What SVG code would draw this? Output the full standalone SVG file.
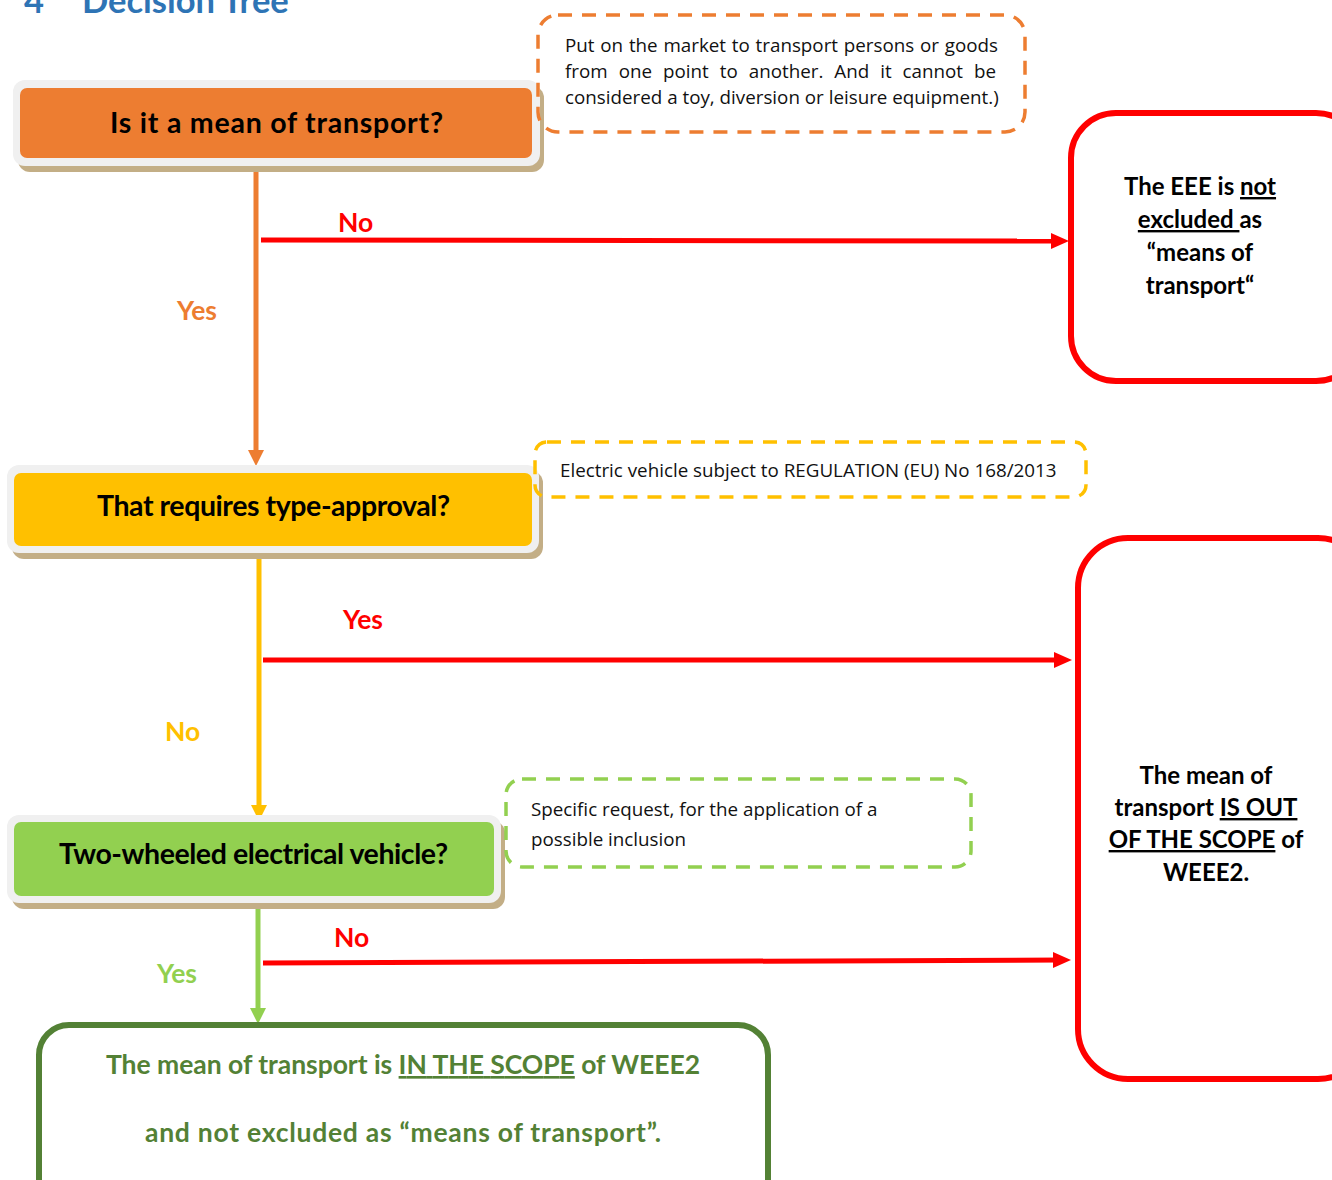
<svg xmlns="http://www.w3.org/2000/svg" width="1332" height="1180" viewBox="0 0 1332 1180">
<defs>
<style>
.t{font-family:Lato,"Open Sans","Liberation Sans",sans-serif;font-weight:700}
.n{font-family:"Open Sans",Lato,"Liberation Sans",sans-serif;font-weight:400;fill:#111;font-size:18.8px}
.q{font-size:28.5px;fill:#000;text-anchor:middle}
.lab{font-size:26.5px}
.res{font-size:24px;fill:#000;text-anchor:middle}
.u{text-decoration:underline}
.frame{fill:#F0F0F0}
.shadow{fill:#C3AE86}
</style>
<marker id="aO" markerWidth="16" markerHeight="16" refX="8" refY="8" orient="auto" markerUnits="userSpaceOnUse" viewBox="0 0 16 16"><path d="M0,0 L16,8 L0,16 Z" fill="#ED7D31"/></marker>
<marker id="aY" markerWidth="16" markerHeight="16" refX="8" refY="8" orient="auto" markerUnits="userSpaceOnUse" viewBox="0 0 16 16"><path d="M0,0 L16,8 L0,16 Z" fill="#FFC000"/></marker>
<marker id="aG" markerWidth="16" markerHeight="16" refX="8" refY="8" orient="auto" markerUnits="userSpaceOnUse" viewBox="0 0 16 16"><path d="M0,0 L16,8 L0,16 Z" fill="#92D050"/></marker>
<marker id="aR" markerWidth="18" markerHeight="18" refX="9" refY="9" orient="auto" markerUnits="userSpaceOnUse" viewBox="0 0 18 18"><path d="M0,1 L18,9 L0,17 Z" fill="#FF0000"/></marker>
</defs>
<rect width="1332" height="1180" fill="#fff"/>

<g id="title">
<text class="t" x="24" y="13" font-size="34.5" fill="#2E74B5">4</text>
<text class="t" x="82" y="13" font-size="34.5" fill="#2E74B5">Decision Tree</text>
</g>

<g id="connectors">
<line x1="256" y1="166" x2="256" y2="458" stroke="#ED7D31" stroke-width="5" marker-end="url(#aO)"/>
<line x1="259" y1="556" x2="259" y2="813" stroke="#FFC000" stroke-width="5" marker-end="url(#aY)"/>
<line x1="258" y1="907" x2="258" y2="1016" stroke="#92D050" stroke-width="5" marker-end="url(#aG)"/>
<line x1="261" y1="240" x2="1060" y2="241" stroke="#FF0000" stroke-width="5" marker-end="url(#aR)"/>
<line x1="263" y1="660" x2="1063" y2="660" stroke="#FF0000" stroke-width="5" marker-end="url(#aR)"/>
<line x1="263" y1="963" x2="1062" y2="960" stroke="#FF0000" stroke-width="5" marker-end="url(#aR)"/>
<text class="t lab" x="338" y="232" fill="#FF0000">No</text>
<text class="t lab" x="177" y="320" fill="#ED7D31">Yes</text>
<text class="t lab" x="343" y="629" fill="#FF0000">Yes</text>
<text class="t lab" x="165" y="741" fill="#FFC000">No</text>
<text class="t lab" x="334" y="947" fill="#FF0000">No</text>
<text class="t lab" x="157" y="983" fill="#92D050">Yes</text>
</g>

<g id="q1">
<rect class="shadow" x="18" y="86" width="526" height="86" rx="12"/>
<rect class="frame" x="13" y="80" width="527" height="86" rx="12"/>
<rect x="20" y="88" width="512" height="70" rx="7" fill="#ED7D31"/>
<text class="t q" x="276.5" y="133" textLength="333" lengthAdjust="spacing">Is it a mean of transport?</text>
</g>

<g id="note1">
<rect x="538" y="15" width="487" height="117" rx="20" fill="none" stroke="#ED7D31" stroke-width="3.5" stroke-dasharray="14 10"/>
<text class="n" x="565" y="52" word-spacing="0.9">Put on the market to transport persons or goods</text>
<text class="n" x="565" y="78" word-spacing="6.1">from one point to another.  And it cannot be</text>
<text class="n" x="565" y="104">considered a toy, diversion or leisure equipment.)</text>
</g>

<g id="r1">
<rect x="1071" y="113" width="290" height="268" rx="45" fill="#fff" stroke="#FF0000" stroke-width="6"/>
<text class="t res" x="1200" y="195">The EEE is <tspan class="u">not</tspan></text>
<text class="t res" x="1200" y="228"><tspan class="u">excluded </tspan>as</text>
<text class="t res" x="1200" y="261">“means of</text>
<text class="t res" x="1200" y="294">transport“</text>
</g>

<g id="q2">
<rect class="shadow" x="12" y="471" width="531" height="88" rx="12"/>
<rect class="frame" x="7" y="465" width="532" height="88" rx="12"/>
<rect x="14" y="473" width="518" height="73" rx="7" fill="#FFC000"/>
<text class="t q" x="273.5" y="516" textLength="353" lengthAdjust="spacing">That requires type-approval?</text>
</g>

<g id="note2">
<rect x="535" y="442" width="551" height="55" rx="12" fill="none" stroke="#FFC000" stroke-width="3.5" stroke-dasharray="14 10"/>
<text class="n" x="560" y="477">Electric vehicle subject to REGULATION (EU) No 168/2013</text>
</g>

<g id="r2">
<rect x="1078" y="538" width="290" height="541" rx="50" fill="#fff" stroke="#FF0000" stroke-width="6"/>
<text class="t res" x="1206" y="784" font-size="23.5">The mean of</text>
<text class="t res" x="1206" y="816" font-size="23.5">transport <tspan class="u">IS OUT</tspan></text>
<text class="t res" x="1206" y="848" font-size="23.5"><tspan class="u">OF THE SCOPE</tspan> of</text>
<text class="t res" x="1206" y="881" font-size="23.5">WEEE2.</text>
</g>

<g id="q3">
<rect class="shadow" x="12" y="821" width="493" height="88" rx="12"/>
<rect class="frame" x="7" y="815" width="494" height="88" rx="12"/>
<rect x="14" y="822" width="480" height="74" rx="7" fill="#92D050"/>
<text class="t q" x="253.5" y="864" textLength="389" lengthAdjust="spacing">Two-wheeled electrical vehicle?</text>
</g>

<g id="note3">
<rect x="506" y="779" width="465" height="88" rx="16" fill="none" stroke="#92D050" stroke-width="3.5" stroke-dasharray="14 10"/>
<text class="n" x="531" y="816">Specific request, for the application of a</text>
<text class="n" x="531" y="846">possible inclusion</text>
</g>

<g id="r3">
<rect x="39" y="1025" width="729" height="190" rx="30" fill="#fff" stroke="#538135" stroke-width="6"/>
<text class="t" font-size="26.5" fill="#538135" text-anchor="middle" x="403" y="1074" textLength="594" lengthAdjust="spacing">The mean of transport is <tspan class="u">IN THE SCOPE</tspan> of WEEE2</text>
<text class="t" font-size="26.5" fill="#538135" text-anchor="middle" x="403" y="1142" textLength="516" lengthAdjust="spacing">and not excluded as “means of transport”.</text>
</g>
</svg>
